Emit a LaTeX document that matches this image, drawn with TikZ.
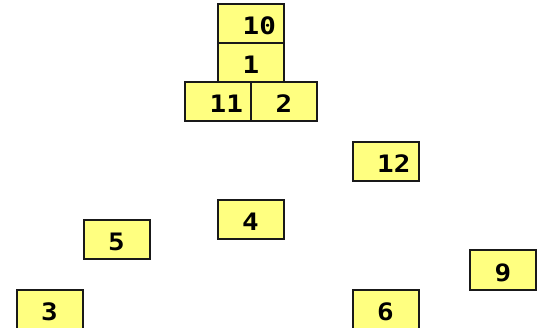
\documentclass[tikz,border=0pt]{standalone}
\usepackage{fontspec}
\newfontfamily\boxfont[FakeStretch=1.15]{DejaVu Sans Mono}
\usepackage{xcolor}
\usepackage{tikz}
\usetikzlibrary{positioning}

\definecolor{boxyellow}{RGB}{255,255,128}

\begin{document}
\begin{tikzpicture}[
      x=1pt, y=-1pt,
      node distance=0pt and 0pt,
      cell/.style={draw=black!90, line width=2pt, fill=boxyellow, inner sep=0pt, outer sep=0pt,
        minimum width=66pt, minimum height=39pt, text height=22pt, text depth=0pt,
        font=\boxfont\bfseries\fontsize{24}{24}\selectfont}
    ]
    \useasboundingbox (0,0) rectangle (540,328);
    % stacked group
    \node[cell] (one) at (251,63) {1};
    \node[cell, above=of one] (ten) {\hphantom{0}10};
    \node[cell, below left=of one.south, anchor=north east] (eleven) {\hphantom{0}11};
    \node[cell, below right=of one.south, anchor=north west] (two) {2};
    % loose boxes
    \node[cell] (twelve) at (385.5,162) {\hphantom{0}12};
    \node[cell] (four) at (250.5,220) {4};
    \node[cell] (five) at (116.5,240) {5};
    \node[cell] (three) at (49.5,309) {3};
    \node[cell] (nine) at (503,270) {9};
    \node[cell] (six) at (385.5,309) {6};
  \end{tikzpicture}
\end{document}
